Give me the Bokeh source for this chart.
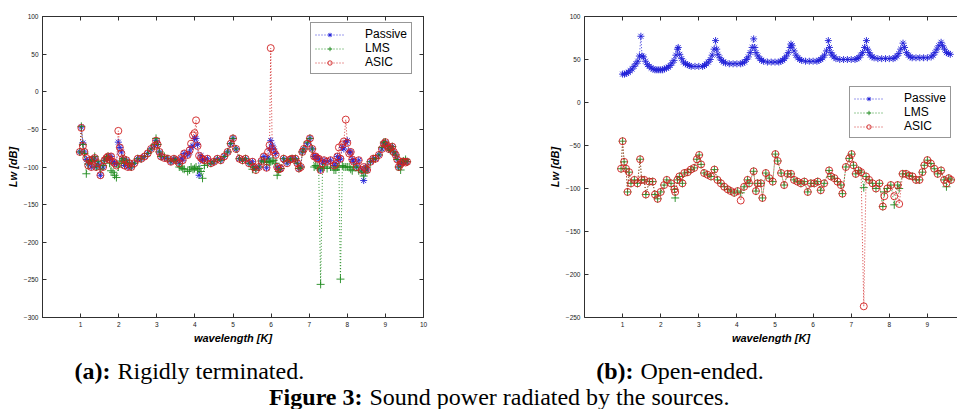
from bokeh.plotting import figure
from bokeh.models import (Range1d, LinearAxis, FixedTicker, Legend, LegendItem,
                          Label, CustomJSTickFormatter)
from bokeh.layouts import column, row
from bokeh.embed import file_html
from bokeh.resources import INLINE

# ---------------- data: panel (a) rigidly terminated ----------------
wl_a = [0.98, 1.02, 1.06, 1.10, 1.15, 1.20, 1.24, 1.28, 1.32, 1.37,
        1.41, 1.46, 1.52, 1.59, 1.63, 1.68, 1.72, 1.76, 1.80, 1.85,
        1.89, 1.94, 1.99, 2.03, 2.07, 2.11, 2.15, 2.20, 2.24, 2.28,
        2.33, 2.41, 2.50, 2.59, 2.68, 2.76, 2.85, 2.94, 2.98, 3.02,
        3.07, 3.11, 3.20, 3.29, 3.37, 3.45, 3.50, 3.59, 3.64, 3.68,
        3.72, 3.81, 3.86, 3.90, 3.95, 3.99, 4.03, 4.07, 4.11, 4.16,
        4.20, 4.25, 4.33, 4.42, 4.50, 4.59, 4.68, 4.77, 4.86, 4.94,
        5.00, 5.08, 5.17, 5.25, 5.33, 5.42, 5.51, 5.55, 5.60, 5.68,
        5.75, 5.81, 5.88, 5.92, 5.96, 5.99, 6.03, 6.07, 6.12, 6.16,
        6.20, 6.25, 6.33, 6.42, 6.50, 6.55, 6.64, 6.69, 6.73, 6.78,
        6.82, 6.86, 6.95, 7.02, 7.08, 7.13, 7.17, 7.21, 7.25, 7.30,
        7.35, 7.39, 7.47, 7.56, 7.65, 7.70, 7.74, 7.78, 7.82, 7.87,
        7.91, 7.96, 8.00, 8.05, 8.09, 8.13, 8.17, 8.25, 8.30, 8.38,
        8.43, 8.48, 8.52, 8.61, 8.68, 8.74, 8.83, 8.91, 8.96, 9.00,
        9.05, 9.09, 9.13, 9.18, 9.22, 9.27, 9.31, 9.35, 9.40, 9.44,
        9.48, 9.53, 9.57]
passive_a = [-80, -47, -68, -80, -90, -96, -91, -100, -91, -88,
             -100, -95, -111, -100, -91, -88, -86, -90, -86, -93,
             -95, -96, -67, -74, -80, -89, -98, -91, -100, -95,
             -100, -95, -89, -89, -86, -82, -76, -72, -65, -70,
             -80, -86, -88, -89, -93, -89, -91, -95, -88, -91,
             -82, -84, -80, -74, -72, -62, -62, -70, -111, -85,
             -90, -91, -89, -95, -93, -89, -91, -86, -80, -69,
             -62, -76, -89, -91, -89, -95, -93, -100, -102, -100,
             -92, -86, -101, -88, -76, -65, -71, -76, -82, -100,
             -103, -102, -89, -95, -90, -89, -89, -95, -102, -100,
             -80, -76, -69, -62, -76, -86, -86, -89, -89, -104,
             -95, -91, -93, -91, -98, -95, -86, -90, -89, -74,
             -76, -67, -65, -80, -80, -90, -93, -100, -91, -104,
             -118, -100, -104, -93, -89, -89, -84, -76, -69, -67,
             -72, -76, -78, -73, -80, -84, -90, -100, -96, -93,
             -93, -92, -93]
lms_a = [-80, -46, -70, -82, -109, -96, -91, -92, -92, -86,
         -100, -93, -103, -98, -91, -88, -86, -95, -105, -107,
         -111, -114, -100, -95, -92, -89, -95, -91, -95, -95,
         -100, -95, -89, -89, -86, -82, -76, -70, -62, -70,
         -80, -86, -86, -89, -92, -90, -92, -100, -100, -102,
         -103, -106, -104, -100, -103, -102, -100, -104, -102, -106,
         -115, -98, -96, -95, -93, -90, -91, -86, -80, -69,
         -62, -76, -89, -91, -89, -95, -103, -100, -104, -100,
         -92, -92, -94, -93, -93, -93, -92, -91, -95, -111,
         -106, -102, -89, -92, -90, -89, -89, -95, -102, -100,
         -80, -76, -67, -62, -76, -100, -98, -100, -102, -256,
         -100, -100, -102, -100, -104, -104, -100, -100, -249, -98,
         -100, -100, -100, -100, -103, -105, -100, -100, -105, -107,
         -112, -107, -100, -93, -89, -89, -84, -74, -67, -67,
         -72, -76, -78, -73, -80, -84, -90, -100, -104, -93,
         -92, -90, -93]
asic_a = [-80, -48, -72, -80, -88, -98, -91, -100, -90, -88,
          -100, -95, -111, -100, -91, -88, -86, -90, -86, -93,
          -95, -98, -52, -74, -82, -89, -98, -91, -100, -95,
          -100, -95, -89, -89, -86, -82, -76, -72, -65, -70,
          -80, -86, -88, -89, -93, -89, -91, -95, -88, -91,
          -82, -84, -78, -69, -58, -55, -38, -72, -85, -88,
          -90, -91, -89, -95, -93, -89, -91, -86, -80, -69,
          -62, -76, -89, -91, -89, -95, -93, -100, -104, -100,
          -92, -86, -101, -80, -71, 58, -76, -80, -84, -100,
          -103, -102, -89, -95, -90, -89, -89, -95, -102, -100,
          -80, -76, -69, -62, -76, -86, -86, -89, -89, -104,
          -95, -91, -93, -91, -98, -96, -86, -74, -89, -70,
          -66, -37, -68, -82, -80, -90, -93, -100, -91, -104,
          -100, -102, -104, -93, -89, -89, -84, -76, -69, -67,
          -72, -76, -75, -73, -80, -84, -90, -100, -96, -93,
          -93, -94, -93]

# ---------------- data: panel (b) open-ended ----------------
wl_b_passive = [1.00, 1.05, 1.10, 1.15, 1.20, 1.25, 1.30, 1.35, 1.40, 1.44,
                1.48, 1.51, 1.55, 1.60, 1.65, 1.70, 1.75, 1.80, 1.85, 1.90,
                1.95, 2.00, 2.05, 2.10, 2.15, 2.20, 2.25, 2.30, 2.35, 2.40,
                2.44, 2.46, 2.50, 2.55, 2.60, 2.65, 2.70, 2.75, 2.80, 2.90,
                3.00, 3.10, 3.15, 3.20, 3.25, 3.30, 3.35, 3.40, 3.44, 3.47,
                3.50, 3.55, 3.60, 3.65, 3.70, 3.80, 3.90, 4.00, 4.10, 4.15,
                4.20, 4.25, 4.30, 4.35, 4.40, 4.44, 4.47, 4.50, 4.55, 4.60,
                4.65, 4.70, 4.80, 4.90, 5.00, 5.10, 5.15, 5.20, 5.25, 5.30,
                5.35, 5.40, 5.42, 5.45, 5.50, 5.55, 5.60, 5.65, 5.70, 5.80,
                5.90, 6.00, 6.10, 6.15, 6.20, 6.25, 6.30, 6.35, 6.40, 6.43,
                6.47, 6.50, 6.55, 6.60, 6.70, 6.80, 6.90, 7.00, 7.10, 7.15,
                7.20, 7.25, 7.30, 7.35, 7.40, 7.43, 7.47, 7.50, 7.55, 7.60,
                7.70, 7.80, 7.90, 8.00, 8.10, 8.15, 8.20, 8.25, 8.30, 8.36,
                8.40, 8.45, 8.50, 8.55, 8.60, 8.70, 8.80, 8.90, 9.00, 9.10,
                9.15, 9.20, 9.25, 9.30, 9.36, 9.40, 9.45, 9.50, 9.55, 9.60]
passive_b = [33, 33, 34, 35, 37, 39, 42, 45, 48, 54,
             77, 54, 53, 48, 44, 42, 40, 39, 38, 38,
             38, 38, 38, 39, 40, 41, 43, 46, 49, 55,
             62, 64, 56, 51, 47, 45, 44, 43, 42, 42,
             42, 42, 43, 45, 47, 50, 55, 62, 72, 62,
             56, 52, 49, 47, 46, 45, 45, 45, 45, 46,
             47, 50, 53, 58, 64, 74, 64, 58, 54, 51,
             49, 48, 47, 47, 47, 47, 48, 49, 51, 54,
             58, 64, 68, 66, 60, 55, 52, 50, 49, 48,
             48, 48, 48, 49, 50, 52, 55, 60, 72, 64,
             58, 55, 53, 51, 50, 50, 50, 50, 50, 51,
             52, 55, 58, 64, 72, 62, 58, 55, 53, 52,
             51, 51, 51, 51, 51, 52, 54, 57, 62, 69,
             64, 58, 55, 53, 52, 52, 52, 52, 52, 53,
             55, 58, 62, 66, 70, 66, 62, 58, 57, 56]
wl_b = [0.96, 1.00, 1.04, 1.09, 1.13, 1.17, 1.22, 1.31, 1.39, 1.46,
        1.50, 1.57, 1.61, 1.70, 1.79, 1.85, 1.92, 2.00, 2.09, 2.16,
        2.27, 2.36, 2.38, 2.44, 2.49, 2.57, 2.62, 2.71, 2.79, 2.88,
        2.95, 3.01, 3.06, 3.14, 3.23, 3.32, 3.41, 3.49, 3.58, 3.67,
        3.76, 3.84, 3.93, 4.02, 4.10, 4.19, 4.28, 4.32, 4.44, 4.50,
        4.54, 4.63, 4.67, 4.76, 4.85, 4.94, 5.01, 5.07, 5.16, 5.24,
        5.33, 5.42, 5.50, 5.59, 5.68, 5.77, 5.86, 5.94, 6.03, 6.12,
        6.20, 6.29, 6.42, 6.47, 6.56, 6.64, 6.73, 6.77, 6.86, 6.95,
        7.01, 7.06, 7.12, 7.19, 7.26, 7.33, 7.39, 7.47, 7.56, 7.65,
        7.74, 7.83, 7.87, 7.95, 8.04, 8.13, 8.22, 8.26, 8.35, 8.44,
        8.52, 8.61, 8.70, 8.79, 8.87, 8.92, 9.00, 9.09, 9.18, 9.27,
        9.36, 9.44, 9.50, 9.56, 9.62]
lms_b = [-77, -45, -69, -77, -104, -81, -94, -90, -94, -66,
         -90, -90, -107, -92, -92, -107, -112, -104, -96, -90,
         -94, -101, -111, -90, -86, -94, -82, -81, -78, -76,
         -66, -61, -72, -82, -84, -86, -78, -90, -94, -98,
         -101, -103, -105, -103, -105, -98, -90, -94, -80, -103,
         -94, -94, -111, -82, -88, -92, -60, -68, -82, -96,
         -83, -83, -90, -92, -94, -92, -104, -94, -94, -92,
         -102, -94, -79, -86, -88, -92, -96, -106, -75, -65,
         -60, -73, -83, -79, -81, -99, -86, -90, -94, -100,
         -94, -121, -104, -100, -96, -119, -96, -100, -83, -83,
         -85, -86, -90, -90, -81, -73, -67, -71, -77, -83,
         -79, -90, -98, -88, -90]
asic_b = [-77, -45, -69, -77, -104, -81, -94, -90, -94, -66,
          -90, -90, -107, -92, -92, -107, -112, -104, -96, -90,
          -94, -101, -104, -90, -86, -94, -82, -81, -78, -76,
          -66, -61, -72, -82, -84, -86, -78, -90, -94, -98,
          -101, -103, -105, -103, -114, -98, -90, -94, -80, -103,
          -94, -94, -111, -82, -88, -92, -60, -68, -82, -96,
          -83, -83, -90, -92, -94, -92, -104, -94, -94, -92,
          -102, -94, -79, -86, -88, -92, -96, -106, -75, -65,
          -60, -73, -83, -79, -81, -237, -86, -90, -94, -100,
          -94, -121, -109, -100, -96, -109, -96, -118, -83, -83,
          -85, -86, -90, -90, -81, -73, -67, -71, -77, -83,
          -79, -90, -94, -88, -90]

# ---------------- ticks and texts ----------------
x_ticks = [1, 2, 3, 4, 5, 6, 7, 8, 9, 10]
y_ticks_a = [-300, -250, -200, -150, -100, -50, 0, 50, 100]
y_ticks_b = [-250, -200, -150, -100, -50, 0, 50, 100]
series_names = ["Passive", "LMS", "ASIC"]
x_label = "wavelength [K]"
y_label = "Lw [dB]"
cap_a = ("(a):", "Rigidly terminated.")
cap_b = ("(b):", "Open-ended.")
cap_fig = ("Figure 3:", "Sound power radiated by the sources.")

COLORS = ["#2020d8", "#1e8a1e", "#d02020"]
AX = "#303030"
SANS = "Liberation Sans"
SERIF = "Liberation Serif"
ROW_H = 350
CAP_H = 59


def style_axis(ax, labels=True):
    ax.axis_line_color = AX
    ax.axis_line_width = 1
    ax.major_tick_line_color = AX
    ax.major_tick_in = 4
    ax.major_tick_out = 0
    ax.minor_tick_line_color = None
    ax.major_label_text_font = SANS
    ax.major_label_text_font_size = "6.5px"
    ax.major_label_text_color = "#202020"
    ax.major_label_standoff = 4
    if not labels:
        ax.formatter = CustomJSTickFormatter(code="return ''")
        ax.major_label_standoff = 0


def make_panel(width, min_left, min_right, x_end, y_rng, y_ticks, boxed,
               legend_loc, xs, ys):
    p = figure(width=width, height=ROW_H, x_range=Range1d(0, x_end),
               y_range=Range1d(*y_rng), output_backend="svg",
               toolbar_location=None, min_border_left=min_left,
               min_border_right=min_right, min_border_top=16,
               min_border_bottom=33)
    p.grid.visible = False
    p.background_fill_color = "white"
    p.border_fill_color = "white"
    p.outline_line_color = AX if boxed else None

    xa = p.xaxis[0]
    ya = p.yaxis[0]
    xa.ticker = FixedTicker(ticks=x_ticks)
    ya.ticker = FixedTicker(ticks=y_ticks)
    style_axis(xa)
    style_axis(ya)
    xa.axis_label = x_label
    ya.axis_label = y_label
    for a in (xa, ya):
        a.axis_label_text_font = SANS
        a.axis_label_text_font_style = "bold italic"
        a.axis_label_text_font_size = "11px"
        a.axis_label_text_color = "black"
    xa.axis_label_standoff = 2
    ya.axis_label_standoff = 2

    top = LinearAxis(ticker=FixedTicker(ticks=x_ticks))
    style_axis(top, labels=False)
    p.add_layout(top, "above")
    if boxed:
        right = LinearAxis(ticker=FixedTicker(ticks=y_ticks))
        style_axis(right, labels=False)
        p.add_layout(right, "right")

    markers = ["asterisk", "cross", "circle"]
    sizes = [7, 8, 7]
    items = []
    for i, (name, x, y) in enumerate(zip(series_names, xs, ys)):
        c = COLORS[i]
        rl = p.line(x, y, line_color=c, line_dash="1 2", line_width=0.9)
        rs = p.scatter(x, y, marker=markers[i], size=sizes[i], line_color=c,
                       fill_color=None, line_width=0.9)
        items.append(LegendItem(label=name, renderers=[rl, rs]))

    leg = Legend(items=items, location=legend_loc)
    leg.border_line_color = AX
    leg.border_line_width = 1
    leg.background_fill_color = "white"
    leg.background_fill_alpha = 1
    leg.label_text_font = SANS
    leg.label_text_font_size = "12px"
    leg.label_text_color = "black"
    leg.glyph_width = 29
    leg.glyph_height = 11
    leg.label_height = 11
    leg.label_standoff = 21
    leg.padding = 4
    leg.spacing = 0
    leg.margin = 0
    p.add_layout(leg)
    return p


p1 = make_panel(480, 42, 57, 10, (-300, 100), y_ticks_a, True, (268, 243),
                [wl_a, wl_a, wl_a], [passive_a, lms_a, asic_a])
p2 = make_panel(477, 104, 0, 373 / 38.1, (-250, 100), y_ticks_b, False,
                (265, 179), [wl_b_passive, wl_b, wl_b],
                [passive_b, lms_b, asic_b])

cap = figure(width=957, height=CAP_H, x_range=Range1d(0, 957),
             y_range=Range1d(0, CAP_H), output_backend="svg",
             toolbar_location=None, min_border=0,
             x_axis_location=None, y_axis_location=None)
cap.outline_line_color = None
cap.grid.visible = False
cap.background_fill_color = "white"
cap.border_fill_color = "white"


def caption(fig, x_split, y, parts):
    bold, normal = parts
    fig.add_layout(Label(x=x_split, y=y, x_units="screen", y_units="screen",
                         text=bold, text_align="right",
                         text_baseline="middle", text_font=SERIF,
                         text_font_style="bold", text_font_size="24px",
                         text_color="black"))
    fig.add_layout(Label(x=x_split + 7, y=y, x_units="screen",
                         y_units="screen", text=normal, text_align="left",
                         text_baseline="middle", text_font=SERIF,
                         text_font_style="normal", text_font_size="24px",
                         text_color="black"))


caption(cap, 110, 39, cap_a)
caption(cap, 633, 39, cap_b)
caption(cap, 362, 13, cap_fig)

layout = column(row(p1, p2), cap)
open("out.html", "w").write(file_html(layout, INLINE))
